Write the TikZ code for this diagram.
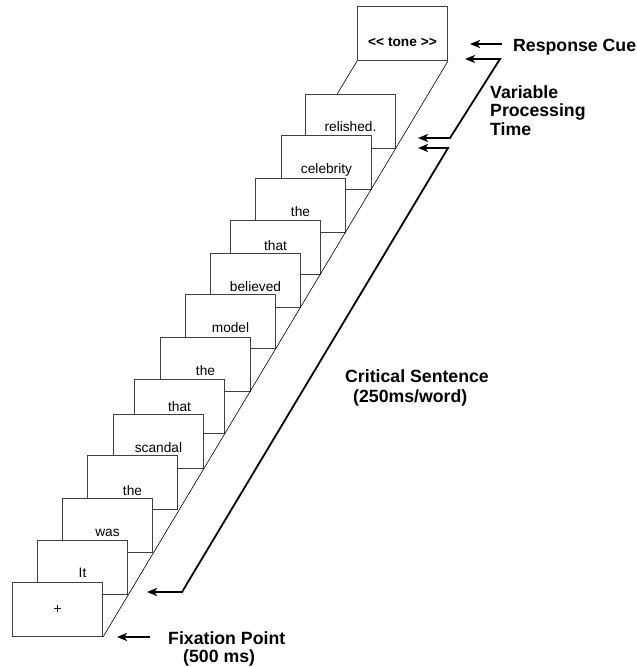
\documentclass[tikz,border=0pt]{standalone}
\usepackage{fontspec}
\setmainfont{Liberation Sans}
\usetikzlibrary{arrows.meta,backgrounds}
\tikzset{
  card/.style  = {draw=black!75, line width=1pt, fill=white, rectangle,
                  minimum width=90pt, minimum height=54pt, inner sep=0pt,
                  text height=21pt, text depth=0pt,
                  anchor=south east, font=\fontsize{13.7}{16}\selectfont},
  floor/.style = {draw, line width=0.6pt},
  lbl/.style   = {font=\fontsize{17.7}{18.5}\selectfont\bfseries,
                  align=left, inner sep=0pt},
  arr/.style   = {line width=1.8pt, -{Stealth[length=10pt,width=8pt,inset=2.5pt]}},
  twoway/.style = {line width=1.8pt,
                  {Stealth[length=10pt,width=8pt,inset=2.5pt]}-{Stealth[length=10pt,width=8pt,inset=2.5pt]}},
}

\begin{document}
\begin{tikzpicture}[x=1pt,y=-1pt, >=Stealth]
\useasboundingbox (0,0) rectangle (637,667);

% tone card at the back
\node[card, text height=25pt] (c13) at (448,61) {\bfseries <\kern0pt< tone >\kern0pt>};

% the words, back to front
\foreach \i/\word/\x/\y/\h in {12/relished./396/149/20, 11/celebrity/372/190/21,
    10/the/346/233/21, 9/that/321/275/5, 8/believed/301/308/21, 7/model/276/349/21,
    6/the/251/392/21, 5/that/225/434/9, 4/scandal/204/469/21, 3/the/178/510/25,
    2/was/153/553/21, 1/It/128/595/20, 0/+/103/637/7}
  \node[card, text height=\h pt] (c\i) at (\x,\y) {\word};

% floor
\draw[floor] (c0.south east) -- (c13.south east);
\begin{scope}[on background layer]
  \draw[floor] (c0.south west) -- (c13.south west);
\end{scope}

% labels
\node[lbl, anchor=base west] (rc) at (513,51) {Response Cue};
\node[lbl, anchor=north west] (vpt) at (490,85) {Variable\\Processing\\Time};
\node[lbl, anchor=north west] (cs) at (345,369) {Critical Sentence\\[2pt]\hspace*{8pt}(250ms/word)};
\node[lbl, anchor=north west] (fp) at (168,631) {Fixation Point\\\hspace*{15pt}(500 ms)};

% arrows
\coordinate (vp1) at ([shift={(17,-2)}]c13.south east);
\coordinate (vp2) at ([shift={(22,-11)}]c12.south east);
\coordinate (cs1) at ([shift={(22,-1)}]c12.south east);
\coordinate (cs2) at ([shift={(19,-3)}]c1.south east);

\draw[arr] ([shift={(54,-17)}]c13.south east) -- ([shift={(22,-17)}]c13.south east);
\draw[twoway] (vp1) -- ++(35,0) -- ++(-50,79) -- (vp2);
\draw[twoway] (cs1) -- ++(30,0) -- ++(-266,444) -- (cs2);
\draw[arr] ([xshift=47]c0.south east) -- ([xshift=14]c0.south east);

\end{tikzpicture}
\end{document}
